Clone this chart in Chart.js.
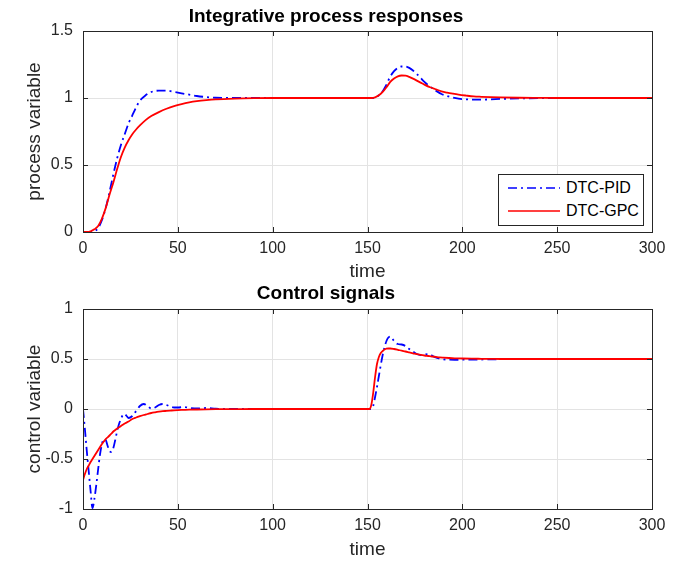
<!DOCTYPE html>
<html>
<head>
<meta charset="utf-8">
<title>Integrative process responses</title>
<script src="https://cdn.jsdelivr.net/npm/chart.js@4.4.1/dist/chart.umd.min.js"></script>
<style>
  html, body { margin: 0; padding: 0; background: #fff; }
  body { width: 678px; height: 562px; position: relative; overflow: hidden; font-family: "Liberation Sans", Arial, sans-serif; }
  canvas { position: absolute; left: 0; }
  #process-chart { top: 0; }
  #control-chart { top: 276px; }
  #legend { position: absolute; left: 498px; top: 174px; width: 144px; height: 50px; border: 1px solid #262626; background: #fff; font-size: 16px; color: #000; }
  .legend-row { position: absolute; left: 9px; height: 20px; display: flex; align-items: center; white-space: nowrap; }
  .legend-row svg { margin-right: 6px; }
</style>
</head>
<body>
<canvas id="process-chart" width="678" height="286"></canvas>
<canvas id="control-chart" width="678" height="286"></canvas>
<div id="legend">
  <div class="legend-row" style="top: 3px;">
    <svg width="52" height="4"><line x1="0" y1="2" x2="52" y2="2" stroke="#0000ff" stroke-width="1.6" stroke-dasharray="9,4,2,4"/></svg>DTC-PID
  </div>
  <div class="legend-row" style="top: 26px;">
    <svg width="52" height="4"><line x1="0" y1="2" x2="52" y2="2" stroke="#ff0000" stroke-width="1.6"/></svg>DTC-GPC
  </div>
</div>
<script>
// --- 1. Data ---
const processTime = [0, 2, 4, 6, 8, 10, 12, 14, 16, 18, 20, 22, 24, 26, 28, 30,
  33, 36, 40, 44, 48, 52, 56, 60, 65, 70, 80, 90, 100,
  150, 152, 154, 156, 158, 160, 162, 164, 166, 168, 170, 172, 174, 176, 178, 180,
  183, 186, 189, 192, 195, 198,
  202, 206, 210, 215, 220, 230, 240, 250, 300];
const processPID = [0, 0, 0, 0.005, 0.03, 0.09, 0.18, 0.30, 0.43, 0.55, 0.65, 0.73, 0.81, 0.87, 0.93, 0.98,
  1.02, 1.045, 1.055, 1.055, 1.045, 1.035, 1.025, 1.015, 1.007, 1.002, 1.0, 1.0, 1.0,
  1.0, 1.0, 1.004, 1.02, 1.05, 1.10, 1.16, 1.20, 1.225, 1.235, 1.235, 1.225, 1.205, 1.18, 1.15, 1.12,
  1.085, 1.055, 1.03, 1.015, 1.003, 0.995,
  0.99, 0.988, 0.988, 0.99, 0.993, 0.997, 0.999, 1.0, 1.0];
const processGPC = [0, 0, 0.005, 0.02, 0.045, 0.10, 0.18, 0.28, 0.37, 0.47, 0.56, 0.63, 0.685, 0.73, 0.765, 0.795,
  0.835, 0.865, 0.895, 0.92, 0.94, 0.955, 0.967, 0.976, 0.984, 0.99, 0.996, 0.999, 1.0,
  1.0, 1.0, 1.005, 1.02, 1.045, 1.08, 1.12, 1.145, 1.162, 1.168, 1.167, 1.158, 1.145, 1.13, 1.115, 1.10,
  1.08, 1.065, 1.05, 1.04, 1.032, 1.025,
  1.018, 1.012, 1.009, 1.006, 1.004, 1.002, 1.001, 1.0, 1.0];

const controlTime = [0, 1, 2, 3, 4, 5, 6, 7, 8, 9, 10, 11, 12, 13, 14, 15, 16, 17, 18, 19, 20, 21, 22, 23, 24,
  26, 28, 30, 32, 34, 36, 38, 40, 42, 44, 46, 48, 50,
  53, 56, 60, 65, 70, 80, 90, 100,
  150, 151, 152, 153, 154, 155, 156, 157, 158, 159, 160, 161, 162,
  164, 166, 168, 170, 172, 174, 176, 178, 180, 182, 184, 186, 188, 190,
  193, 196, 200, 205, 210, 215, 220, 230, 240, 250, 300];
const controlPID = [0, -0.2, -0.42, -0.62, -0.82, -0.99, -0.90, -0.76, -0.60, -0.45, -0.35, -0.30, -0.31, -0.37, -0.42, -0.43, -0.39, -0.31, -0.22, -0.15, -0.10, -0.06, -0.05, -0.07, -0.09,
  -0.07, -0.02, 0.03, 0.05, 0.03, 0.005, 0.015, 0.04, 0.05, 0.04, 0.025, 0.015, 0.015,
  0.02, 0.012, 0.005, 0.01, 0.003, 0, 0, 0,
  0, 0, 0, 0.03, 0.12, 0.22, 0.33, 0.44, 0.54, 0.62, 0.68, 0.715, 0.725,
  0.68, 0.65, 0.645, 0.63, 0.60, 0.575, 0.55, 0.54, 0.545, 0.55, 0.535, 0.515, 0.505, 0.497,
  0.493, 0.492, 0.493, 0.494, 0.495, 0.497, 0.498, 0.5, 0.5, 0.5, 0.5];
const controlGPC = [-0.71, -0.65, -0.60, -0.565, -0.53, -0.50, -0.47, -0.44, -0.41, -0.38, -0.35, -0.325, -0.30, -0.283, -0.265, -0.245, -0.225, -0.21, -0.195, -0.183, -0.17, -0.157, -0.145, -0.135, -0.125,
  -0.10, -0.085, -0.072, -0.06, -0.05, -0.04, -0.033, -0.027, -0.022, -0.019, -0.016, -0.013, -0.011,
  -0.009, -0.007, -0.005, -0.003, -0.002, -0.001, 0, 0,
  0, 0, 0.04, 0.16, 0.32, 0.45, 0.52, 0.56, 0.58, 0.595, 0.603, 0.605, 0.605,
  0.60, 0.592, 0.583, 0.575, 0.566, 0.557, 0.548, 0.541, 0.535, 0.53, 0.525, 0.521, 0.517, 0.514,
  0.51, 0.507, 0.505, 0.503, 0.502, 0.501, 0.5, 0.5, 0.5, 0.5, 0.5];

const xTicks = [0, 50, 100, 150, 200, 250, 300];

// --- 2. Style constants ---
const FONT = '"Liberation Sans", Arial, sans-serif';
const AXIS_COLOR = '#262626';
const GRID_COLOR = '#e3e3e3';
const TICK_LEN = 5;

const toPoints = (xs, ys) => xs.map((x, i) => ({ x: x, y: ys[i] }));
const tickText = v => String(Number(v.toFixed(2)));

// box around the axes with inward tick marks, MATLAB style
const axesBox = {
    id: 'axesBox',
    afterDatasetsDraw(chart) {
        const { ctx, chartArea: a, scales } = chart;
        ctx.save();
        ctx.strokeStyle = AXIS_COLOR;
        ctx.lineWidth = 1;
        ctx.beginPath();
        scales.x.ticks.forEach(t => {
            const px = Math.round(scales.x.getPixelForValue(t.value)) + 0.5;
            ctx.moveTo(px, a.bottom); ctx.lineTo(px, a.bottom - TICK_LEN);
            ctx.moveTo(px, a.top); ctx.lineTo(px, a.top + TICK_LEN);
        });
        scales.y.ticks.forEach(t => {
            const py = Math.round(scales.y.getPixelForValue(t.value)) + 0.5;
            ctx.moveTo(a.left, py); ctx.lineTo(a.left + TICK_LEN, py);
            ctx.moveTo(a.right, py); ctx.lineTo(a.right - TICK_LEN, py);
        });
        ctx.stroke();
        ctx.strokeRect(Math.round(a.left) + 0.5, Math.round(a.top) + 0.5, Math.round(a.width), Math.round(a.height));
        ctx.restore();
    }
};

// --- 3. Chart builder ---
function makeChart(canvasId, cfg) {
    const ctx = document.getElementById(canvasId).getContext('2d');
    return new Chart(ctx, {
        type: 'line',
        data: {
            datasets: [
                {
                    label: 'DTC-PID',
                    data: toPoints(cfg.time, cfg.pid),
                    borderColor: '#0000ff',
                    borderWidth: 1.8,
                    borderDash: [9, 4, 2, 4],
                    pointRadius: 0,
                    cubicInterpolationMode: 'monotone',
                    order: 1
                },
                {
                    label: 'DTC-GPC',
                    data: toPoints(cfg.time, cfg.gpc),
                    borderColor: '#ff0000',
                    borderWidth: 1.8,
                    pointRadius: 0,
                    cubicInterpolationMode: 'monotone',
                    order: 0
                }
            ]
        },
        options: {
            responsive: false,
            animation: false,
            devicePixelRatio: 1,
            layout: { padding: { left: 0, right: 26, top: 0, bottom: 0 } },
            plugins: {
                legend: { display: false },
                tooltip: { enabled: false },
                title: {
                    display: true,
                    text: cfg.title,
                    color: '#000',
                    font: { family: FONT, size: 19, weight: 'bold' },
                    padding: cfg.titlePad
                }
            },
            scales: {
                x: {
                    type: 'linear',
                    min: 0, max: 300,
                    afterBuildTicks: scale => { scale.ticks = xTicks.map(v => ({ value: v })); },
                    afterFit: scale => { scale.height = cfg.xAxisHeight; },
                    grid: { color: GRID_COLOR, drawTicks: false },
                    border: { display: false },
                    ticks: { color: AXIS_COLOR, padding: 7, maxRotation: 0, font: { family: FONT, size: 16 } },
                    title: {
                        display: true, text: 'time', color: AXIS_COLOR,
                        font: { family: FONT, size: 19 },
                        padding: { top: 0, bottom: cfg.xTitlePad }
                    }
                },
                y: {
                    min: cfg.yMin, max: cfg.yMax,
                    ticks: { stepSize: 0.5, color: AXIS_COLOR, padding: 10, font: { family: FONT, size: 16 }, callback: tickText },
                    afterFit: scale => { scale.width = 83; },
                    grid: { color: GRID_COLOR, drawTicks: false },
                    border: { display: false },
                    title: {
                        display: true, text: cfg.yLabel, color: AXIS_COLOR,
                        font: { family: FONT, size: 19 },
                        padding: { top: 23, bottom: 0 }
                    }
                }
            }
        },
        plugins: [axesBox]
    });
}

// --- 4. Build both panels ---
makeChart('process-chart', {
    title: 'Integrative process responses',
    yLabel: 'process variable',
    time: processTime, pid: processPID, gpc: processGPC,
    yMin: 0, yMax: 1.5,
    titlePad: { top: 5, bottom: 3.2 },
    xAxisHeight: 54,
    xTitlePad: 2.6
});

makeChart('control-chart', {
    title: 'Control signals',
    yLabel: 'control variable',
    time: controlTime, pid: controlPID, gpc: controlGPC,
    yMin: -1, yMax: 1,
    titlePad: { top: 6.6, bottom: 3.6 },
    xAxisHeight: 53,
    xTitlePad: 0.6
});
</script>
</body>
</html>
